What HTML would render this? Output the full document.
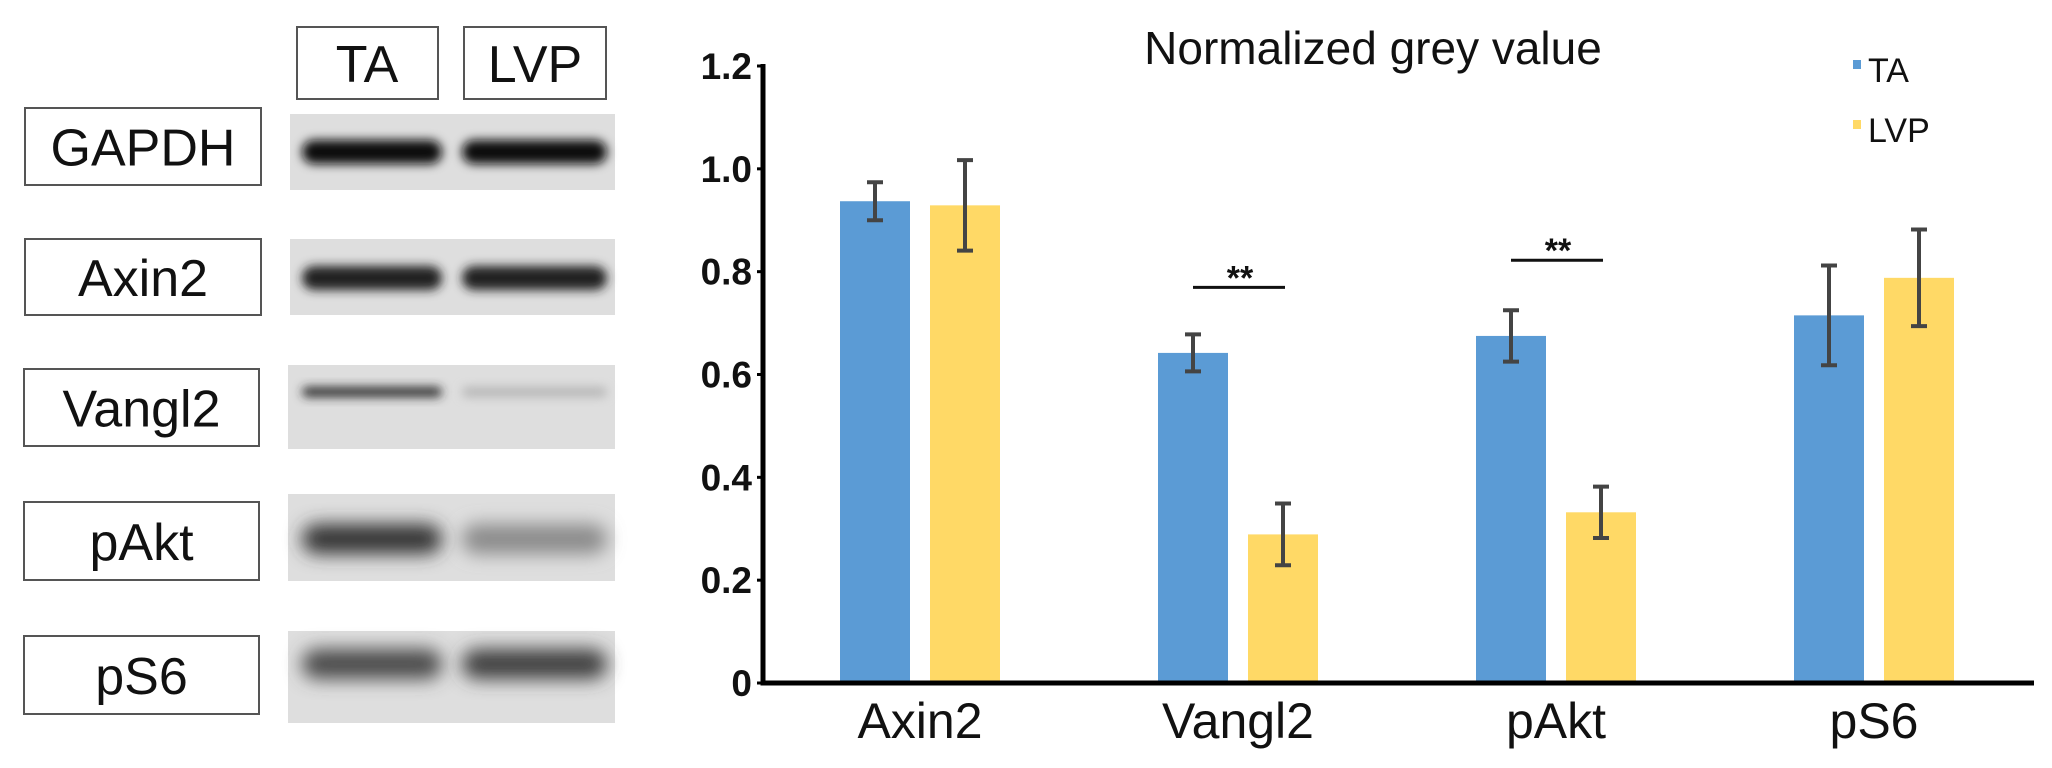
<!DOCTYPE html>
<html><head><meta charset="utf-8"><style>
html,body{margin:0;padding:0;background:#fff;}
svg{display:block;font-family:"Liberation Sans",Arial,sans-serif;}
</style></head><body>
<svg id="fig" width="2052" height="768" viewBox="0 0 2052 768" xmlns="http://www.w3.org/2000/svg">
<defs>
<filter id="blur" x="-20%" y="-100%" width="140%" height="300%"><feGaussianBlur stdDeviation="5"/></filter>
<filter id="blur2" x="-20%" y="-100%" width="140%" height="300%"><feGaussianBlur stdDeviation="9"/></filter>
</defs>
<g id="blot-panel">
<rect x="297" y="27" width="141" height="72" fill="#fff" stroke="#555" stroke-width="2"/>
<text x="367" y="82" font-size="52" text-anchor="middle" fill="#111">TA</text>
<rect x="464" y="27" width="142" height="72" fill="#fff" stroke="#555" stroke-width="2"/>
<text x="535" y="82" font-size="52" text-anchor="middle" fill="#111">LVP</text>
</g>
<g id="chart"></g>
</svg>
<script>
// Blot rows
const blotNames = ["GAPDH","Axin2","Vangl2","pAkt","pS6"];
const blotTA = [1.0, 0.9, 0.85, 0.8, 0.7];
const blotLVP = [1.0, 0.9, 0.2, 0.4, 0.75];
// Chart data
const categories = ["Axin2","Vangl2","pAkt","pS6"];
const taValues = [0.937, 0.642, 0.675, 0.715];
const lvpValues = [0.929, 0.289, 0.332, 0.788];
const taErr = [0.037, 0.036, 0.05, 0.097];
const lvpErr = [0.088, 0.06, 0.05, 0.094];
const yTicks = [0, 0.2, 0.4, 0.6, 0.8, 1.0, 1.2];
const yTickLabels = ["0","0.2","0.4","0.6","0.8","1.0","1.2"];
const sigPairs = [1, 2];
const sigLabels = ["**","**"];

const NS = "http://www.w3.org/2000/svg";
function mk(tag, attrs, parent){const e=document.createElementNS(NS,tag);for(const k in attrs)e.setAttribute(k,attrs[k]);parent.appendChild(e);return e;}
const svg = document.getElementById('fig');
const blotG = document.getElementById('blot-panel');

// blot layout
const labelBox = [[25,108,236,77],[25,239,236,76],[24,369,235,77],[24,502,235,78],[24,636,235,78]];
const blotBox = [[290,114,325,76],[290,239,325,76],[288,365,327,84],[288,494,327,87],[288,631,327,92]];
const bandY = [152,278,392,539,664];
blotNames.forEach((n,i)=>{
  const lb=labelBox[i];
  const r=mk('rect',{x:lb[0],y:lb[1],width:lb[2],height:lb[3],fill:'#fff',stroke:'#555','stroke-width':2},blotG);
  
  
  const t=mk('text',{x:lb[0]+lb[2]/2,y:lb[1]+lb[3]/2+19,'font-size':52,'text-anchor':'middle',fill:'#111'},blotG);
  t.textContent=n;
  
  
  const bb=blotBox[i];
  const b=mk('rect',{x:bb[0],y:bb[1],width:bb[2],height:bb[3],fill:'#dedede'},blotG);
  
  
  const hs=[blotTA[i],blotLVP[i]];
  const xs=[[302,442],[462,607]];
  hs.forEach((v,j)=>{
    const g=Math.round(225-215*v);
    const h = i===2?10:(i>=3?30:24);
    const e=mk('rect',{x:xs[j][0],y:bandY[i]-h/2,width:xs[j][1]-xs[j][0],height:h,rx:h/2,fill:`rgb(${g},${g},${g})`,filter:i>=3?'url(#blur2)':'url(#blur)'},blotG);
    
    
  });
});

// chart
const chart=document.getElementById('chart');
const x0=763, x1=2034, yBase=683, yTop=66;
function yS(v){return yBase-(v/1.2)*(yBase-yTop);}
const groupCenters0=920, groupStep=318, barW=70, barGap=20;
function gx(i){return groupCenters0+i*groupStep;}

const title=mk('text',{x:1373,y:64,'font-size':46,'text-anchor':'middle',fill:'#111'},chart);
title.textContent='Normalized grey value';



yTicks.forEach((v,i)=>{
  const t=mk('text',{x:752,y:yS(v)+13,'font-size':37,'font-weight':'bold','text-anchor':'end',fill:'#111'},chart);
  t.textContent=yTickLabels[i];
  
  
  const tk=mk('line',{x1:x0-6,x2:x0,y1:yS(v),y2:yS(v),stroke:'#000','stroke-width':3},chart);
  
  
});

categories.forEach((c,i)=>{
  const cx=gx(i);
  [[taValues,taErr,'#5b9bd5',cx-barGap/2-barW,'ta'],[lvpValues,lvpErr,'#ffd966',cx+barGap/2,'lvp']].forEach(s=>{
    const v=s[0][i], e=s[1][i];
    const b=mk('rect',{x:s[3],y:yS(v),width:barW,height:yBase-yS(v),fill:s[2]},chart);
    
    
    const mx=s[3]+barW/2;
    const eg=mk('path',{d:`M${mx},${yS(v+e)}V${yS(v-e)}M${mx-8},${yS(v+e)}H${mx+8}M${mx-8},${yS(v-e)}H${mx+8}`,stroke:'#444','stroke-width':4,fill:'none'},chart);
    
    
  });
  const t=mk('text',{x:cx,y:738,'font-size':50,'text-anchor':'middle',fill:'#111'},chart);
  t.textContent=c;
  
  
});

sigPairs.forEach((gi,k)=>{
  const cx=gx(gi);
  const top=Math.max(taValues[gi]+taErr[gi],lvpValues[gi]+lvpErr[gi]);
  const ly=yS(top)-(gi===1?47:50);
  const l=mk('line',{x1:cx-45,x2:cx+47,y1:ly,y2:ly,stroke:'#111','stroke-width':3},chart);
  
  
  const t=mk('text',{x:cx+2,y:ly+2,'font-size':34,'font-weight':'bold','text-anchor':'middle',fill:'#111'},chart);
  t.textContent=sigLabels[k];
  
  
});

const ax=mk('path',{d:`M${x0},${yTop-2}V${yBase}H${x1}`,stroke:'#000','stroke-width':5,fill:'none'},chart);



const legend=mk('g',{},chart);


[['TA','#5b9bd5',82],['LVP','#ffd966',142]].forEach(l=>{
  const s=mk('rect',{x:1853,y:l[2]-22,width:8,height:9,fill:l[1]},legend);
  
  
  const t=mk('text',{x:1868,y:l[2],'font-size':34,fill:'#111'},legend);
  t.textContent=l[0];
  
  
});
</script>
</body></html>
